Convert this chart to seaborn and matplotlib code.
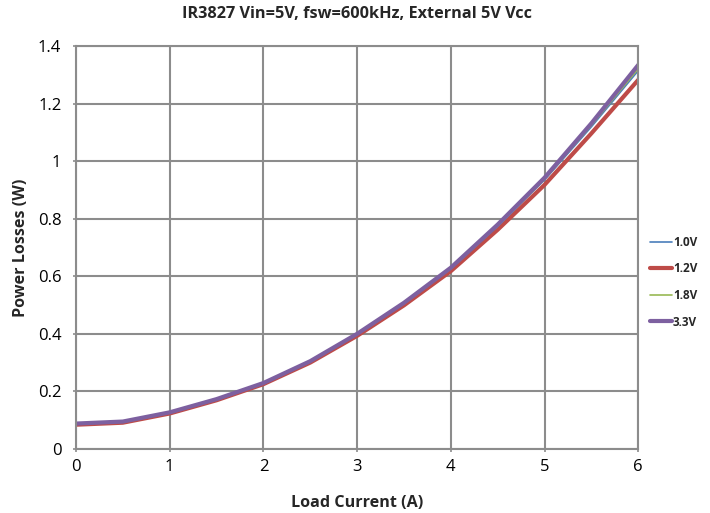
import matplotlib
matplotlib.use("Agg")
import matplotlib.pyplot as plt
import seaborn as sns
import pandas as pd

current = [0, 0.5, 1, 1.5, 2, 2.5, 3, 3.5, 4, 4.5, 5, 5.5, 6]
loss_10 = [0.087, 0.093, 0.126, 0.172, 0.228, 0.304, 0.398, 0.505, 0.626, 0.774, 0.935, 1.120, 1.315]
loss_12 = [0.084, 0.091, 0.123, 0.169, 0.225, 0.300, 0.393, 0.499, 0.618, 0.762, 0.918, 1.097, 1.283]
loss_18 = [0.087, 0.093, 0.126, 0.172, 0.228, 0.304, 0.399, 0.506, 0.627, 0.776, 0.938, 1.125, 1.322]
loss_33 = [0.088, 0.095, 0.127, 0.173, 0.229, 0.305, 0.400, 0.508, 0.630, 0.780, 0.943, 1.132, 1.335]
series = ["1.0V", "1.2V", "1.8V", "3.3V"]

df = pd.concat([
    pd.DataFrame({"I": current, "P": v, "s": name})
    for name, v in zip(series, [loss_10, loss_12, loss_18, loss_33])
])

sns.set_style("white")
plt.rcParams['font.family'] = ['Open Sans', 'DejaVu Sans']

fig = plt.figure(figsize=(7.1, 5.13), dpi=100)
ax = fig.add_axes([0.107, 0.125, 0.792, 0.785])

palette = {"1.0V": "#4a7ebb", "1.2V": "#be4b48", "1.8V": "#98b954", "3.3V": "#7d60a0"}
widths = {"1.0V": 1.2, "1.2V": 3.0, "1.8V": 1.2, "3.3V": 3.0}
order_draw = ["1.2V", "1.0V", "1.8V", "3.3V"]
handles = {}
for name in order_draw:
    sub = df[df.s == name]
    sns.lineplot(data=sub, x="I", y="P", ax=ax, color=palette[name],
                 linewidth=widths[name], label=name, legend=False)
    handles[name] = ax.lines[-1]

ax.set_xlim(0, 6)
ax.set_ylim(0, 1.4)
ax.set_xticks(range(0, 7))
ax.set_yticks([0, 0.2, 0.4, 0.6, 0.8, 1.0, 1.2, 1.4])
ax.set_yticklabels(["0", "0.2", "0.4", "0.6", "0.8", "1", "1.2", "1.4"])
ax.grid(True, color="#8c8c8c", linewidth=1.5)
ax.set_axisbelow(True)
for sp in ax.spines.values():
    sp.set_color("#8c8c8c")
    sp.set_linewidth(1.5)
ax.tick_params(axis="both", labelsize=12, colors="black", length=5, width=1.2,
               direction="inout", left=True, bottom=True)
ax.tick_params(axis="y", pad=8)
ax.tick_params(axis="x", pad=5)
ax.tick_params(axis="both", color="#8c8c8c")

ax.set_xlabel("Load Current (A)", fontsize=11.6, fontweight="bold", labelpad=14)
ax.set_ylabel("Power Losses (W)", fontsize=11.6, fontweight="bold", labelpad=6)
ax.set_title("IR3827 Vin=5V, fsw=600kHz, External 5V Vcc", fontsize=11.7, fontweight="bold", pad=20)

leg = fig.legend([handles[n] for n in series], series, loc="center left",
                 bbox_to_anchor=(0.916, 0.45), frameon=False,
                 prop={"size": 8.5, "weight": "bold"}, handlelength=1.8,
                 handletextpad=0.1, labelspacing=1.15, borderaxespad=0,
                 borderpad=0)

fig.savefig("out.png", dpi=100)
